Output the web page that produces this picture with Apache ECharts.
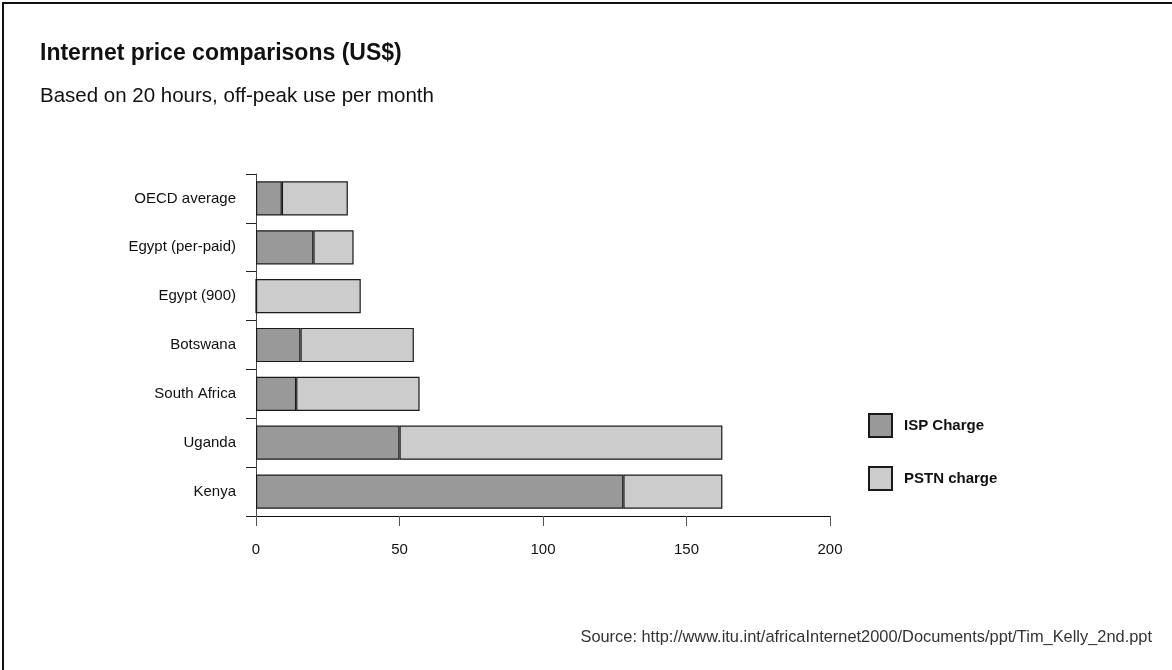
<!DOCTYPE html>
<html>
<head>
<meta charset="utf-8">
<script src="https://cdn.jsdelivr.net/npm/echarts@6/dist/echarts.min.js"></script>
<style>
    html, body { margin: 0; padding: 0; background: #fff; }
    #chart {
        width: 1172px;
        height: 670px;
        box-sizing: border-box;
        border-top: 2px solid #111;
        border-left: 2px solid #111;
        margin: 2px 0 0 2px;
    }
</style>
</head>
<body>
<div id="chart"></div>
<script>
    // datos (US$)
    const paises = ['OECD average', 'Egypt (per-paid)', 'Egypt (900)', 'Botswana', 'South Africa', 'Uganda', 'Kenya'];
    const ispCharge = [9, 20, 0, 15.5, 14, 50, 128];
    const pstnCharge = [23, 14, 36.5, 39.5, 43, 112.5, 34.5];
    const ticksX = [0, 50, 100, 150, 200];

    const fuente = '"Liberation Sans", Arial, Helvetica, sans-serif';

    var myChart = echarts.init(document.getElementById('chart'));

    var option = {
        animation: false,
        textStyle: { fontFamily: fuente },
        title: [
            {
                text: 'Internet price comparisons (US$)',
                left: 31,
                top: 33,
                textStyle: { fontSize: 23, fontWeight: 'bold', color: '#111', fontFamily: fuente }
            },
            {
                text: 'Based on 20 hours, off-peak use per month',
                left: 31,
                top: 77,
                textStyle: { fontSize: 20.5, fontWeight: 'normal', color: '#111', fontFamily: fuente }
            },
            {
                text: 'Source: http://www.itu.int/africaInternet2000/Documents/ppt/Tim_Kelly_2nd.ppt',
                right: 17,
                top: 620,
                textStyle: { fontSize: 16.4, fontWeight: 'normal', color: '#333', fontFamily: fuente }
            }
        ],
        legend: {
            orient: 'vertical',
            left: 859,
            top: 404,
            itemWidth: 23,
            itemHeight: 23,
            itemGap: 28,
            icon: 'rect',
            textStyle: { fontSize: 15, fontWeight: 'bold', color: '#111', padding: [0, 0, 0, 7] },
            data: ['ISP Charge', 'PSTN charge']
        },
        grid: {
            left: 252,
            right: 344,
            top: 170,
            bottom: 156
        },
        xAxis: {
            type: 'value',
            min: ticksX[0],
            max: ticksX[ticksX.length - 1],
            interval: 50,
            splitLine: { show: false },
            axisLine: { show: true, lineStyle: { color: '#111', width: 1 } },
            axisTick: { show: true, length: 10, lineStyle: { color: '#555' } },
            axisLabel: { fontSize: 15, color: '#111', margin: 26 }
        },
        yAxis: {
            type: 'category',
            inverse: true,
            data: paises,
            axisLine: { show: true, lineStyle: { color: '#444', width: 1 } },
            axisTick: { show: true, length: 10, alignWithLabel: false, lineStyle: { color: '#222' } },
            axisLabel: { fontSize: 15, color: '#111', margin: 20 }
        },
        series: [
            {
                name: 'ISP Charge',
                type: 'bar',
                stack: 'total',
                barWidth: '70%',
                data: ispCharge,
                itemStyle: { color: '#999999', borderColor: '#1a1a1a', borderWidth: 1.2 }
            },
            {
                name: 'PSTN charge',
                type: 'bar',
                stack: 'total',
                barWidth: '70%',
                data: pstnCharge,
                itemStyle: { color: '#cccccc', borderColor: '#1a1a1a', borderWidth: 1.2 }
            }
        ]
    };

    option && myChart.setOption(option);
</script>
</body>
</html>
